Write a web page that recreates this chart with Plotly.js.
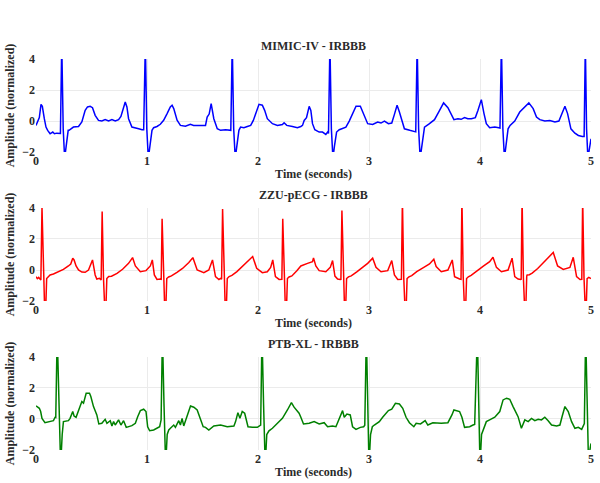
<!DOCTYPE html>
<html>
<head>
<meta charset="utf-8">
<script src="https://cdn.plot.ly/plotly-3.0.1.min.js"></script>
<style>html,body{margin:0;padding:0;background:#fff;}#chart{width:600px;height:483px;}</style>
</head>
<body>
<div id="chart"></div>
<script>
// ---- Data (seconds, normalized amplitude) ----
const titles = ["MIMIC-IV - IRBBB", "ZZU-pECG - IRBBB", "PTB-XL - IRBBB"];
const xTickVals = [0, 1, 2, 3, 4, 5];
const yTickVals = [-2, 0, 2, 4];

const mimicT = [0.000,0.015,0.030,0.045,0.057,0.075,0.090,0.105,0.127,0.151,0.166,0.187,0.211,
 0.220,0.232,0.245,0.258,0.272,0.290,
 0.298,0.337,0.383,0.413,0.443,0.464,0.488,0.509,0.533,0.563,0.593,0.623,0.654,0.684,0.714,0.744,0.765,0.789,0.804,0.819,0.834,0.864,0.895,0.925,0.955,0.970,
 0.985,0.998,1.012,1.026,1.045,
 1.060,1.090,1.120,1.150,1.181,1.210,1.226,1.241,1.271,1.301,1.346,1.391,1.420,1.452,1.490,1.527,1.542,1.560,1.578,1.602,1.633,1.663,1.708,1.747,
 1.755,1.768,1.781,1.795,1.809,1.828,
 1.843,1.873,1.904,1.934,1.958,1.979,2.009,2.039,2.060,2.084,2.130,2.175,2.220,2.235,2.259,2.310,2.355,2.386,
 2.401,2.416,2.437,2.461,2.476,2.491,2.512,2.551,2.581,2.611,2.627,
 2.635,2.648,2.661,2.675,2.689,2.708,
 2.732,2.762,2.792,2.822,2.852,2.883,2.922,2.943,2.964,2.988,3.033,3.078,3.108,3.139,3.175,3.205,3.229,3.253,3.274,3.295,3.319,3.367,3.407,
 3.421,3.434,3.447,3.461,3.475,3.494,
 3.500,3.545,3.590,3.636,3.672,3.711,3.741,3.765,3.801,3.830,3.861,3.890,3.922,3.958,3.982,4.012,4.036,4.057,4.087,4.133,4.169,
 4.180,4.193,4.206,4.220,4.234,4.253,
 4.271,4.313,4.358,4.404,4.440,4.479,4.509,4.539,4.584,4.629,4.650,4.675,4.711,4.735,4.765,4.789,4.819,4.855,4.870,4.886,4.922,
 4.938,4.949,4.960,4.972,4.985,5.000];
const mimicV = [-0.28,0.04,0.22,1.08,0.95,0.15,-0.39,-0.60,-0.82,-0.71,-0.82,-0.78,-0.82,
 -0.80,5.0,-0.5,-2.4,-1.6,-0.60,
 -0.60,-0.39,-0.35,-0.06,0.69,0.91,0.95,0.86,0.37,0.04,0.0,0.09,0.0,0.09,0.0,0.09,0.30,0.91,1.23,0.91,0.15,-0.39,-0.43,-0.50,-0.56,-0.56,
 5.0,-0.5,-2.4,-1.6,-0.60,
 -0.43,-0.35,-0.21,0.05,0.48,0.91,1.02,0.80,0.05,-0.28,-0.34,-0.21,-0.28,-0.28,-0.25,-0.28,0.26,0.45,1.12,0.15,-0.50,-0.60,-0.56,-0.60,
 -0.60,5.0,-0.5,-2.4,-1.6,-0.60,
 -0.39,-0.43,-0.35,-0.28,0.04,0.48,1.08,1.02,0.69,0.15,-0.17,-0.28,-0.22,-0.11,-0.28,-0.35,-0.43,-0.35,
 -0.28,0.04,0.22,0.95,0.69,-0.17,-0.56,-0.71,-0.71,-0.86,-0.71,
 -0.80,5.0,-0.5,-2.4,-1.6,-0.71,
 -0.56,-0.50,-0.39,0.0,0.48,0.95,0.95,0.58,0.15,-0.17,-0.22,-0.06,-0.13,0.0,-0.17,-0.13,0.43,1.02,0.58,0.09,-0.50,-0.60,-0.71,
 -0.70,5.0,-0.5,-2.4,-1.6,-0.60,
 -0.39,-0.17,0.09,0.69,1.17,0.86,0.37,0.09,0.15,0.11,0.22,0.15,0.15,0.22,0.69,1.38,0.48,-0.17,-0.43,-0.39,-0.43,
 -0.45,5.0,-0.5,-2.4,-1.6,-0.50,
 -0.28,0.0,0.58,0.91,1.17,0.80,0.26,0.09,0.0,0.04,-0.02,-0.06,0.0,0.48,0.95,0.48,-0.50,-0.78,-0.88,-0.93,-0.99,
 -1.00,5.0,-0.5,-2.4,-1.9,-1.15];

const zzuT = [0.000,0.012,0.024,0.039,
 0.044,0.054,0.066,0.078,0.088,0.096,
 0.111,0.127,0.157,0.202,0.247,0.292,0.313,0.331,0.343,0.361,0.383,0.413,0.443,0.473,0.494,0.509,0.521,0.533,0.548,0.572,0.587,
 0.596,0.608,0.620,0.630,0.638,
 0.655,0.680,0.730,0.780,0.834,0.870,0.895,0.940,0.991,1.030,1.048,1.066,1.090,1.120,
 1.128,1.136,1.148,1.160,1.170,1.178,
 1.195,1.220,1.270,1.320,1.377,1.413,1.452,1.512,1.557,1.590,1.617,1.648,1.663,
 1.672,1.681,1.693,1.705,1.715,1.723,
 1.740,1.765,1.810,1.860,1.904,1.952,1.988,2.039,2.084,2.114,2.133,2.157,2.190,2.211,
 2.215,2.223,2.235,2.247,2.257,2.265,
 2.280,2.305,2.350,2.386,2.446,2.491,2.500,2.521,2.551,2.611,2.651,2.672,2.693,2.717,2.741,
 2.747,2.756,2.768,2.780,2.790,2.798,
 2.815,2.840,2.890,2.940,2.988,3.033,3.063,3.108,3.169,3.205,3.229,3.259,3.283,
 3.292,3.301,3.313,3.325,3.335,3.343,
 3.360,3.385,3.430,3.490,3.545,3.584,3.605,3.651,3.711,3.750,3.771,3.816,
 3.829,3.837,3.849,3.861,3.871,3.879,
 3.895,3.920,3.970,4.030,4.087,4.117,4.148,4.193,4.253,4.289,4.313,4.343,4.367,
 4.371,4.379,4.391,4.403,4.413,4.421,
 4.425,4.445,4.470,4.520,4.570,4.614,4.660,4.699,4.750,4.810,4.840,4.870,4.901,
 4.917,4.925,4.937,4.949,4.957,4.965,4.980,5.000];
const zzuV = [-0.43,-0.56,-0.48,-0.65,
 -0.65,4.05,-0.5,-2.6,-2.4,-0.55,
 -0.43,-0.32,-0.26,-0.11,0.04,0.26,0.39,0.76,0.65,0.26,0.0,-0.13,-0.15,0.0,0.32,0.65,0.17,-0.32,-0.58,-0.54,-0.65,
 3.77,-0.5,-2.6,-2.4,-0.55,
 -0.42,-0.40,-0.22,0.05,0.43,0.80,0.26,-0.11,-0.04,0.26,0.65,-0.32,-0.61,-0.58,
 -0.60,3.30,-0.5,-2.6,-2.4,-0.55,
 -0.45,-0.38,-0.15,0.10,0.48,0.80,0.0,-0.17,0.0,0.65,-0.43,-0.61,-0.54,
 -0.60,3.94,-0.5,-2.6,-2.4,-0.55,
 -0.42,-0.35,-0.10,0.25,0.54,0.87,0.11,-0.17,-0.11,0.17,0.65,-0.43,-0.61,-0.56,
 -0.60,3.30,-0.5,-2.6,-2.4,-0.55,
 -0.45,-0.38,-0.05,0.26,0.43,0.54,0.78,0.26,-0.04,-0.11,0.17,0.61,-0.39,-0.58,-0.61,
 -0.60,3.83,-0.5,-2.6,-2.4,-0.55,
 -0.44,-0.38,-0.12,0.15,0.43,0.76,0.17,-0.11,-0.04,0.61,-0.32,-0.61,-0.61,
 -0.60,4.60,-0.5,-2.6,-2.4,-0.55,
 -0.44,-0.36,-0.10,0.15,0.39,0.69,0.22,-0.11,0.0,0.65,-0.43,-0.58,
 -0.60,4.60,-0.5,-2.6,-2.4,-0.55,
 -0.44,-0.35,-0.05,0.25,0.54,0.82,0.17,-0.11,0.0,0.76,-0.43,-0.58,-0.61,
 -0.60,4.60,-0.5,-2.6,-2.4,-0.40,
 -0.32,-0.30,-0.20,0.10,0.45,0.76,1.13,0.26,0.04,0.17,0.82,-0.43,-0.61,
 -0.60,4.60,-0.5,-2.6,-2.4,-0.55,-0.48,-0.55];

const ptbT = [0.000,0.030,0.042,0.054,0.081,0.120,0.157,0.172,
 0.178,0.191,0.205,0.222,0.236,0.247,
 0.292,0.307,0.331,0.343,0.361,0.383,0.398,0.413,0.428,0.452,0.482,0.494,0.518,0.548,0.566,0.593,0.623,0.639,0.669,0.684,0.699,0.714,0.744,0.765,0.789,0.813,0.864,0.895,0.916,0.940,0.970,0.991,1.006,1.024,1.060,1.090,1.114,1.127,
 1.139,1.153,1.168,1.182,1.196,
 1.211,1.241,1.256,1.286,1.301,1.316,1.331,1.361,1.392,1.422,1.452,1.482,1.506,1.527,1.557,1.602,1.663,1.723,1.783,1.798,1.819,1.837,1.858,1.880,1.910,1.949,1.994,2.024,
 2.036,2.050,2.065,2.079,2.099,
 2.130,2.175,2.220,2.265,2.301,2.325,2.370,2.386,2.410,2.461,2.506,2.551,2.596,2.627,2.672,2.702,2.723,2.762,2.777,2.801,2.831,2.852,2.883,2.922,2.952,
 2.962,2.976,2.988,3.000,3.014,3.030,
 3.048,3.093,3.123,3.175,3.205,3.238,3.274,3.304,3.334,3.364,3.404,3.425,3.464,3.506,3.530,3.575,3.651,3.711,3.747,3.765,3.816,3.837,3.861,3.907,3.937,3.952,
 3.976,3.988,4.000,4.014,4.027,
 4.057,4.087,4.133,4.178,4.208,4.239,4.268,4.298,4.343,4.373,4.404,4.434,4.464,4.494,4.524,4.554,4.584,4.614,4.645,4.690,4.720,4.741,4.765,4.795,4.825,4.855,4.886,4.916,4.931,
 4.940,4.952,4.964,4.978,4.990,5.000];
const ptbV = [0.84,0.69,0.48,0.04,-0.24,-0.19,-0.11,0.11,
 0.10,5.5,1.0,-3.0,-1.0,-0.17,
 -0.11,0.04,0.48,0.19,0.11,0.58,0.80,1.12,1.02,1.66,1.66,1.45,0.80,0.26,-0.32,-0.28,-0.02,-0.28,-0.11,-0.45,-0.17,-0.39,-0.06,-0.39,-0.11,-0.54,-0.43,-0.28,0.15,0.54,0.63,0.48,-0.50,-0.76,-0.71,-0.60,-0.50,-0.06,
 5.5,1.0,-3.0,-1.0,-0.71,
 -0.60,-0.39,-0.54,-0.11,-0.39,0.04,-0.45,0.15,0.84,0.76,0.58,-0.02,-0.50,-0.54,-0.71,-0.45,-0.39,-0.50,-0.45,-0.17,0.41,0.04,0.48,0.37,-0.50,-0.54,-0.54,-0.39,
 5.5,1.0,-3.0,-1.0,-0.76,
 -0.60,-0.28,0.04,0.58,1.06,0.76,0.37,0.11,-0.32,-0.28,-0.17,-0.32,-0.24,-0.50,-0.45,-0.50,-0.17,0.54,0.11,0.32,0.26,-0.50,-0.67,-0.54,-0.50,
 -0.40,5.5,1.0,-3.0,-1.0,-0.50,
 -0.39,-0.17,0.11,0.54,0.63,1.01,0.97,0.69,0.11,-0.24,-0.50,-0.28,-0.32,-0.11,-0.39,-0.24,-0.28,-0.24,0.26,0.58,0.48,0.11,-0.54,-0.50,-0.39,-0.35,
 5.5,1.0,-3.0,-1.0,-0.71,
 -0.17,-0.06,0.11,0.48,1.23,1.34,1.27,0.80,0.15,-0.60,-0.06,-0.17,0.04,-0.11,-0.02,-0.06,0.11,-0.11,-0.39,-0.45,-0.39,0.19,0.80,0.48,-0.17,-0.60,-0.54,-0.67,-0.39,
 -0.30,5.5,1.0,-3.0,-2.0,-1.58];

const seriesT = [mimicT, zzuT, ptbT];
const seriesV = [mimicV, zzuV, ptbV];
const lineColors = ["blue", "red", "green"];

// ---- Layout ----
const FONT = "Liberation Serif, 'Times New Roman', serif";
const TXT = "#2a2a2a";
const domains = [[0.762, 1.0], [0.381, 0.619], [0.0, 0.238]];

const traces = [];
const layout = {
  width: 600, height: 483,
  margin: {l: 36, r: 9, t: 59, b: 33},
  paper_bgcolor: "#fff", plot_bgcolor: "#fff",
  showlegend: false,
  font: {family: FONT, size: 12, color: TXT, weight: "bold"},
  annotations: []
};

for (let i = 0; i < 3; i++) {
  const sfx = i === 0 ? "" : String(i + 1);
  traces.push({
    x: seriesT[i], y: seriesV[i], type: "scatter", mode: "lines",
    line: {color: lineColors[i], width: 1.5},
    xaxis: "x" + sfx, yaxis: "y" + sfx, hoverinfo: "skip"
  });
  layout["xaxis" + sfx] = {
    domain: [0, 1], anchor: "y" + sfx, range: [0, 5],
    tickvals: xTickVals, ticks: "", showline: false,
    showgrid: true, gridcolor: "#ebebeb", gridwidth: 1, zeroline: false,
    tickfont: {family: FONT, size: 12, color: TXT, weight: "bold"},
    title: {text: "Time (seconds)", font: {family: FONT, size: 12, color: TXT, weight: "bold"}, standoff: 2},
    automargin: false
  };
  layout["yaxis" + sfx] = {
    domain: domains[i], anchor: "x" + sfx, range: [-2, 4],
    tickvals: yTickVals, ticks: "", showline: false,
    showgrid: true, gridcolor: "#ebebeb", gridwidth: 1, zeroline: false,
    tickfont: {family: FONT, size: 12, color: TXT, weight: "bold"},
    title: {text: "Amplitude (normalized)", font: {family: FONT, size: 12, color: TXT, weight: "bold"}, standoff: 4},
    automargin: false
  };
  layout.annotations.push({
    text: titles[i], xref: "paper", yref: "paper", x: 0.5, y: domains[i][1],
    xanchor: "center", yanchor: "bottom", yshift: 4, showarrow: false,
    font: {family: FONT, size: 12, color: TXT, weight: "bold"}
  });
}

Plotly.newPlot("chart", traces, layout, {displayModeBar: false, staticPlot: true});
</script>
</body>
</html>
